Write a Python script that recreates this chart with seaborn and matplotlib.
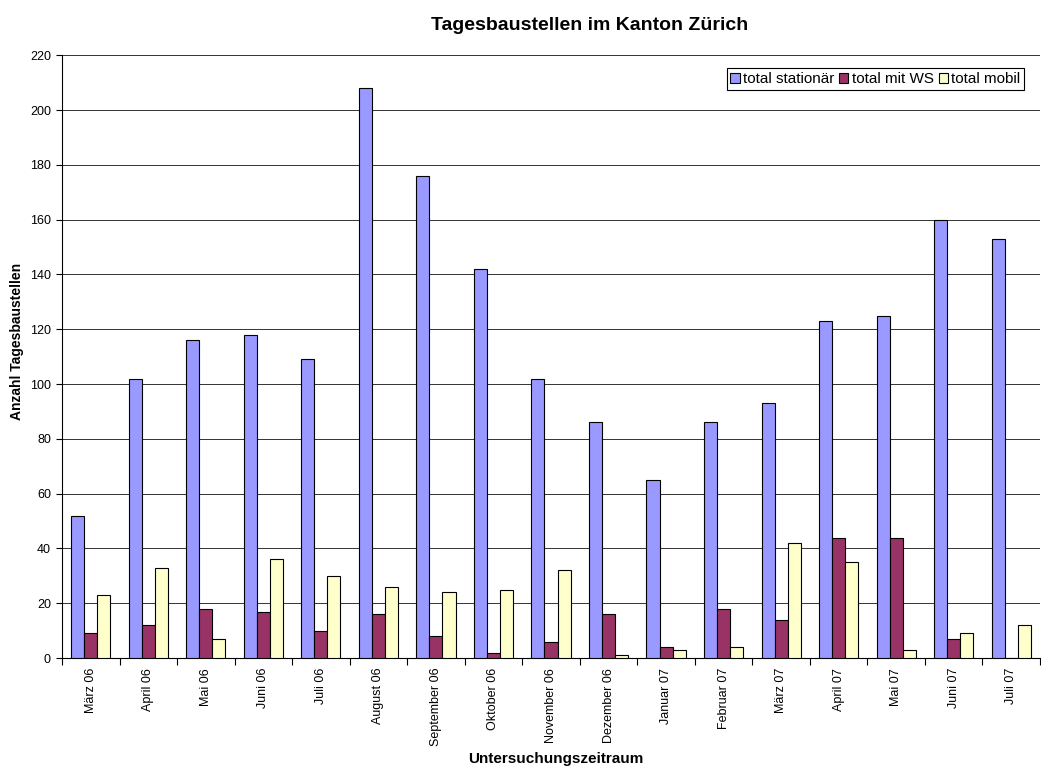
import matplotlib
matplotlib.use("Agg")
import matplotlib.pyplot as plt
import seaborn as sns
import pandas as pd
import numpy as np

months = ["März 06", "April 06", "Mai 06", "Juni 06", "Juli 06", "August 06",
          "September 06", "Oktober 06", "November 06", "Dezember 06", "Januar 07",
          "Februar 07", "März 07", "April 07", "Mai 07", "Juni 07", "Juli 07"]
stationaer = [52, 102, 116, 118, 109, 208, 176, 142, 102, 86, 65, 86, 93, 123, 125, 160, 153]
mit_ws = [9, 12, 18, 17, 10, 16, 8, 2, 6, 16, 4, 18, 14, 44, 44, 7, 0]
mobil = [23, 33, 7, 36, 30, 26, 24, 25, 32, 1, 3, 4, 42, 35, 3, 9, 12]
series_names = ["total stationär", "total mit WS", "total mobil"]
colors = ["#9999FF", "#993366", "#FFFFCC"]
yticks = list(range(0, 221, 20))

df = pd.DataFrame({
    "Monat": months * 3,
    "Serie": [series_names[0]] * 17 + [series_names[1]] * 17 + [series_names[2]] * 17,
    "Wert": stationaer + mit_ws + mobil,
})

sns.set_theme(style="white")
plt.rcParams["font.family"] = ["Liberation Sans", "DejaVu Sans"]
plt.rcParams["text.color"] = "black"
plt.rcParams["axes.labelcolor"] = "black"
plt.rcParams["xtick.color"] = "black"
plt.rcParams["ytick.color"] = "black"

fig = plt.figure(figsize=(10.41, 7.67), dpi=100)
ax = fig.add_axes([0.0596, 0.142, 0.9394, 0.786])

sns.barplot(data=df, x="Monat", y="Wert", hue="Serie", order=months,
            hue_order=series_names, palette=colors, width=0.68, gap=0,
            edgecolor="black", linewidth=0.8, saturation=1, ax=ax, zorder=3)

ax.set_xlim(-0.5, len(months) - 0.5)
ax.set_ylim(0, 220)
ax.set_yticks(yticks)
ax.set_yticklabels([str(v) for v in yticks], fontsize=9)
ax.yaxis.grid(True, color="#333333", linewidth=0.7, zorder=0)
ax.set_axisbelow(True)

ax.set_xticks(range(len(months)))
ax.set_xticklabels(months, rotation=90, fontsize=9)
ax.tick_params(axis="x", which="major", length=0, pad=7)
ax.set_xticks(np.arange(-0.5, len(months), 1.0), minor=True)
ax.tick_params(axis="x", which="minor", length=5, color="black", width=0.8, direction="out", bottom=True)
ax.tick_params(axis="y", length=4, color="black", width=0.8, direction="out", left=True, pad=4)

for s in ["top", "right"]:
    ax.spines[s].set_visible(False)
for s in ["left", "bottom"]:
    ax.spines[s].set_color("black")
    ax.spines[s].set_linewidth(0.8)

ax.set_xlabel("Untersuchungszeitraum", fontsize=11, fontweight="bold")
ax.xaxis.set_label_coords(0.5046, -0.156)
ax.set_ylabel("Anzahl Tagesbaustellen", fontsize=10, fontweight="bold")
ax.yaxis.set_label_coords(-0.039, 0.525)

fig.text(590 / 1041, 1 - 30 / 767, "Tagesbaustellen im Kanton Zürich",
         fontsize=14, fontweight="bold", ha="center", va="baseline")

leg = ax.legend(ncol=3, loc="upper right", bbox_to_anchor=(0.9837, 0.978), fontsize=11,
                frameon=True, fancybox=False, edgecolor="black", framealpha=1,
                handlelength=0.6, handleheight=0.6, handletextpad=0.2, columnspacing=0.35,
                borderpad=0.25, borderaxespad=0)
leg.get_frame().set_linewidth(0.8)

fig.savefig("out.png", dpi=100, facecolor="white")
